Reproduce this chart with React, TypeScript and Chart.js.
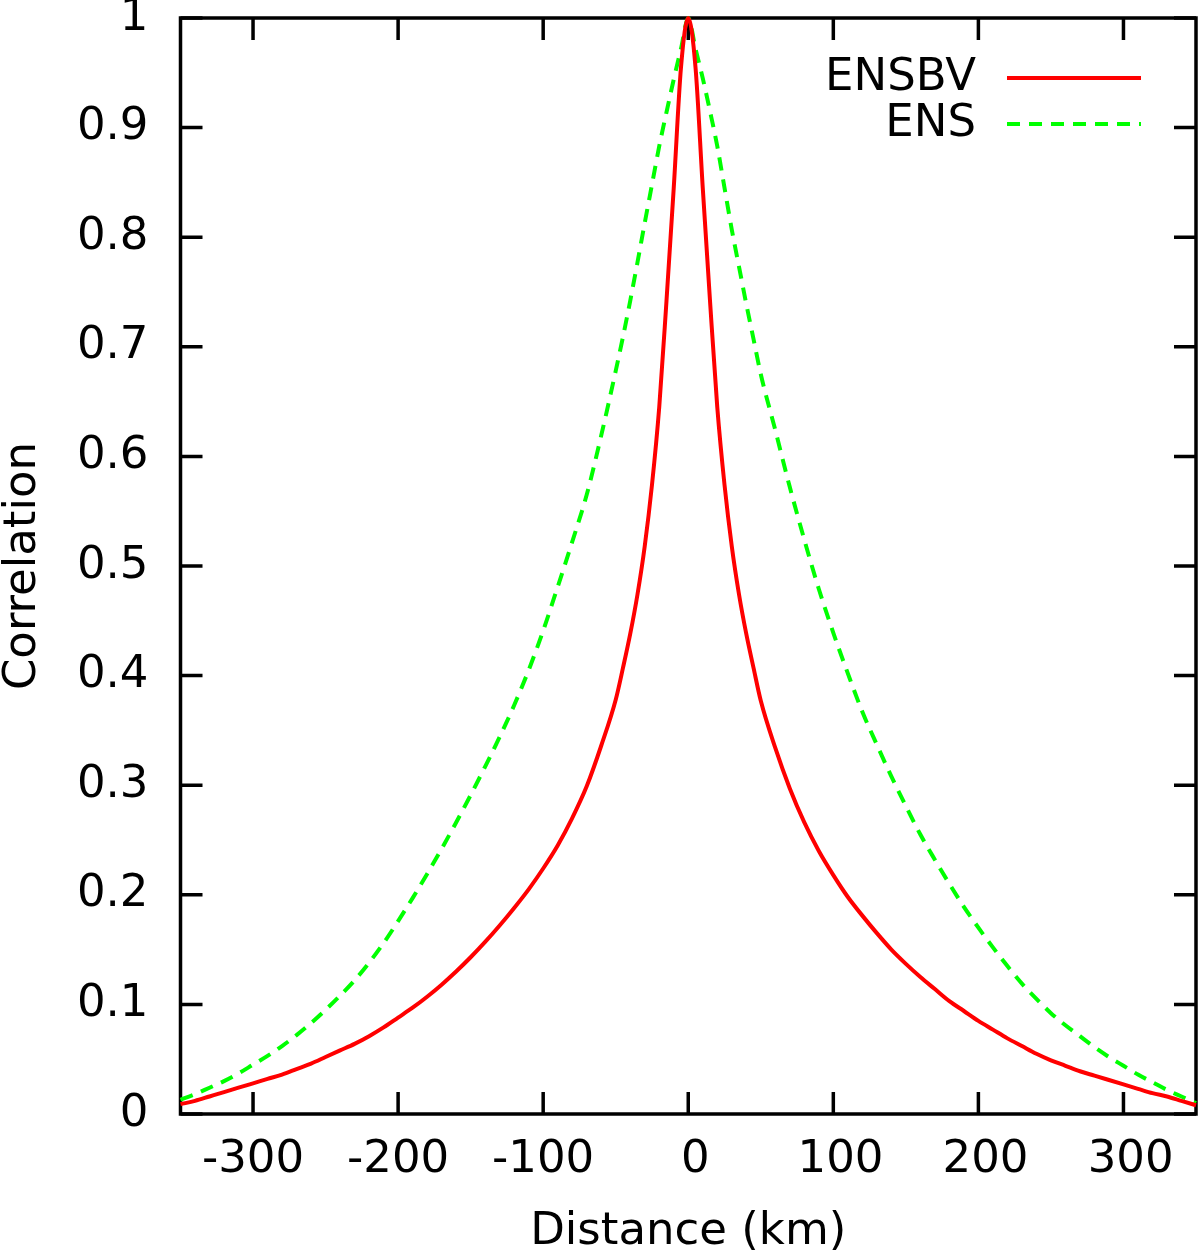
import { useEffect, useRef } from "react";
import Chart from "chart.js/auto";

// distance from the point (km)
const distances = [
  -350, -340, -330, -320, -310, -300, -290, -280, -270, -260, -250, -240, -230, -220, -210, -200,
  -190, -180, -170, -160, -150, -140, -130, -120, -110, -100, -90, -80, -70, -60, -50,
  -45, -40, -35, -30, -25, -20, -15, -10, -5, 0, 5, 10, 15, 20, 25, 30, 35, 40, 45,
  50, 60, 70, 80, 90, 100, 110, 120, 130, 140, 150, 160, 170, 180, 190, 200,
  210, 220, 230, 240, 250, 260, 270, 280, 290, 300, 310, 320, 330, 340, 350,
];

const ensbv = [
  0.009, 0.012, 0.016, 0.02, 0.024, 0.028, 0.032, 0.036, 0.041, 0.046, 0.052, 0.058, 0.064, 0.071, 0.079, 0.088,
  0.097, 0.107, 0.118, 0.13, 0.143, 0.157, 0.172, 0.188, 0.205, 0.224, 0.245, 0.27, 0.299, 0.336, 0.378,
  0.407, 0.438, 0.474, 0.518, 0.574, 0.645, 0.742, 0.845, 0.955, 1.0, 0.955, 0.845, 0.742, 0.645, 0.574, 0.518, 0.474, 0.438, 0.407,
  0.377, 0.334, 0.297, 0.266, 0.24, 0.218, 0.198, 0.181, 0.165, 0.15, 0.137, 0.125, 0.114, 0.103, 0.094, 0.085,
  0.077, 0.069, 0.062, 0.055, 0.049, 0.044, 0.039, 0.035, 0.031, 0.027, 0.023, 0.019, 0.016, 0.012, 0.008,
];

const ens = [
  0.013, 0.018, 0.024, 0.03, 0.037, 0.045, 0.053, 0.062, 0.072, 0.083, 0.095, 0.108, 0.122, 0.138, 0.156, 0.176,
  0.197, 0.219, 0.242, 0.266, 0.291, 0.317, 0.344, 0.373, 0.405, 0.441, 0.481, 0.522, 0.565, 0.619, 0.678,
  0.709, 0.742, 0.777, 0.813, 0.848, 0.883, 0.914, 0.944, 0.972, 1.0, 0.972, 0.945, 0.915, 0.883, 0.845, 0.807, 0.773, 0.739, 0.707,
  0.675, 0.624, 0.572, 0.524, 0.479, 0.439, 0.402, 0.367, 0.337, 0.308, 0.281, 0.255, 0.232, 0.21, 0.189, 0.17,
  0.152, 0.135, 0.119, 0.105, 0.092, 0.081, 0.071, 0.061, 0.052, 0.044, 0.036, 0.029, 0.022, 0.016, 0.01,
];

const xTickValues = [-300, -200, -100, 0, 100, 200, 300];
const xTickLabels = ["-300", "-200", "-100", " 0", " 100", " 200", " 300"];
const yTickValues = [0, 0.1, 0.2, 0.3, 0.4, 0.5, 0.6, 0.7, 0.8, 0.9, 1];
const yTickLabels = ["0", "0.1", "0.2", "0.3", "0.4", "0.5", "0.6", "0.7", "0.8", "0.9", "1"];

const FONT = "'DejaVu Sans', sans-serif";
const FONT_SIZE = 45;
const TICK = 22;

// gnuplot-like border with inward ticks on all four sides
const framePlugin = {
  id: "frame",
  beforeDatasetsDraw(chart: any) {
    const { ctx, chartArea: a, scales } = chart;
    ctx.save();
    ctx.strokeStyle = "#000";
    ctx.lineWidth = 3.5;
    ctx.beginPath();
    for (const v of xTickValues) {
      const px = scales.x.getPixelForValue(v);
      ctx.moveTo(px, a.bottom);
      ctx.lineTo(px, a.bottom - TICK);
      ctx.moveTo(px, a.top);
      ctx.lineTo(px, a.top + TICK);
    }
    for (const v of yTickValues) {
      const py = scales.y.getPixelForValue(v);
      ctx.moveTo(a.left, py);
      ctx.lineTo(a.left + TICK, py);
      ctx.moveTo(a.right, py);
      ctx.lineTo(a.right - TICK, py);
    }
    ctx.stroke();
    ctx.strokeRect(a.left, a.top, a.right - a.left, a.bottom - a.top);
    ctx.restore();
  },
  afterDraw(chart: any) {
    // legend: label on the left, line sample on the right
    const { ctx } = chart;
    ctx.save();
    ctx.font = `${FONT_SIZE}px ${FONT}`;
    ctx.fillStyle = "#000";
    ctx.textAlign = "right";
    ctx.textBaseline = "middle";
    chart.data.datasets.forEach((ds: any, i: number) => {
      const y = 78 + i * 46;
      ctx.fillText(ds.label, 976, y);
      ctx.strokeStyle = ds.borderColor;
      ctx.lineWidth = ds.borderWidth;
      ctx.setLineDash(ds.borderDash || []);
      ctx.beginPath();
      ctx.moveTo(1007, y);
      ctx.lineTo(1141, y);
      ctx.stroke();
    });
    ctx.restore();
  },
};

export default function App() {
  const chartRef = useRef<HTMLCanvasElement>(null);
  const chartInstance = useRef<Chart | null>(null);

  useEffect(() => {
    document.body.style.margin = "0";
    if (!chartRef.current) return;
    const ctx = chartRef.current.getContext("2d");
    if (!ctx) return;
    if (chartInstance.current) chartInstance.current.destroy();

    chartInstance.current = new Chart(ctx, {
      type: "line",
      data: {
        datasets: [
          {
            label: "ENSBV",
            data: distances.map((d, i) => ({ x: d, y: ensbv[i] })),
            borderColor: "#ff0000",
            borderWidth: 4,
            pointRadius: 0,
            cubicInterpolationMode: "monotone",
            clip: 6,
          },
          {
            label: "ENS",
            data: distances.map((d, i) => ({ x: d, y: ens[i] })),
            borderColor: "#00ff00",
            borderWidth: 4,
            borderDash: [13, 9],
            pointRadius: 0,
            cubicInterpolationMode: "monotone",
            clip: 6,
          },
        ],
      },
      options: {
        responsive: true,
        maintainAspectRatio: false,
        animation: false,
        layout: { padding: { top: 18, right: 4, left: 0, bottom: 0 } },
        plugins: {
          legend: { display: false },
          tooltip: { enabled: false },
        },
        scales: {
          x: {
            type: "linear",
            min: -350,
            max: 350,
            grid: { display: false, drawTicks: false, tickLength: 0 },
            border: { display: false },
            afterBuildTicks: (scale: any) => {
              scale.ticks = xTickValues.map((value) => ({ value }));
            },
            afterFit: (scale: any) => {
              scale.height = 138;
              scale.paddingLeft = 0;
              scale.paddingRight = 0;
            },
            ticks: {
              autoSkip: false,
              maxRotation: 0,
              padding: 19,
              color: "#000",
              font: { family: FONT, size: FONT_SIZE },
              callback: (_v: any, i: number) => xTickLabels[i],
            },
            title: {
              display: true,
              text: "Distance (km)",
              color: "#000",
              font: { family: FONT, size: FONT_SIZE },
              padding: { top: 0, bottom: -7 },
            },
          },
          y: {
            type: "linear",
            min: 0,
            max: 1,
            grid: { display: false, drawTicks: false, tickLength: 0 },
            border: { display: false },
            afterBuildTicks: (scale: any) => {
              scale.ticks = yTickValues.map((value) => ({ value }));
            },
            afterFit: (scale: any) => {
              scale.width = 180.5;
              scale.paddingTop = 0;
              scale.paddingBottom = 0;
            },
            ticks: {
              autoSkip: false,
              padding: 32,
              color: "#000",
              font: { family: FONT, size: FONT_SIZE },
              callback: (_v: any, i: number) => yTickLabels[i],
            },
            title: {
              display: true,
              text: "Correlation",
              color: "#000",
              font: { family: FONT, size: FONT_SIZE },
              padding: { top: -4, bottom: 0 },
            },
          },
        },
      },
      plugins: [framePlugin],
    });

    return () => {
      if (chartInstance.current) {
        chartInstance.current.destroy();
        chartInstance.current = null;
      }
    };
  }, []);

  return (
    <div style={{ width: 1200, height: 1252, position: "relative" }}>
      <canvas ref={chartRef}></canvas>
    </div>
  );
}
